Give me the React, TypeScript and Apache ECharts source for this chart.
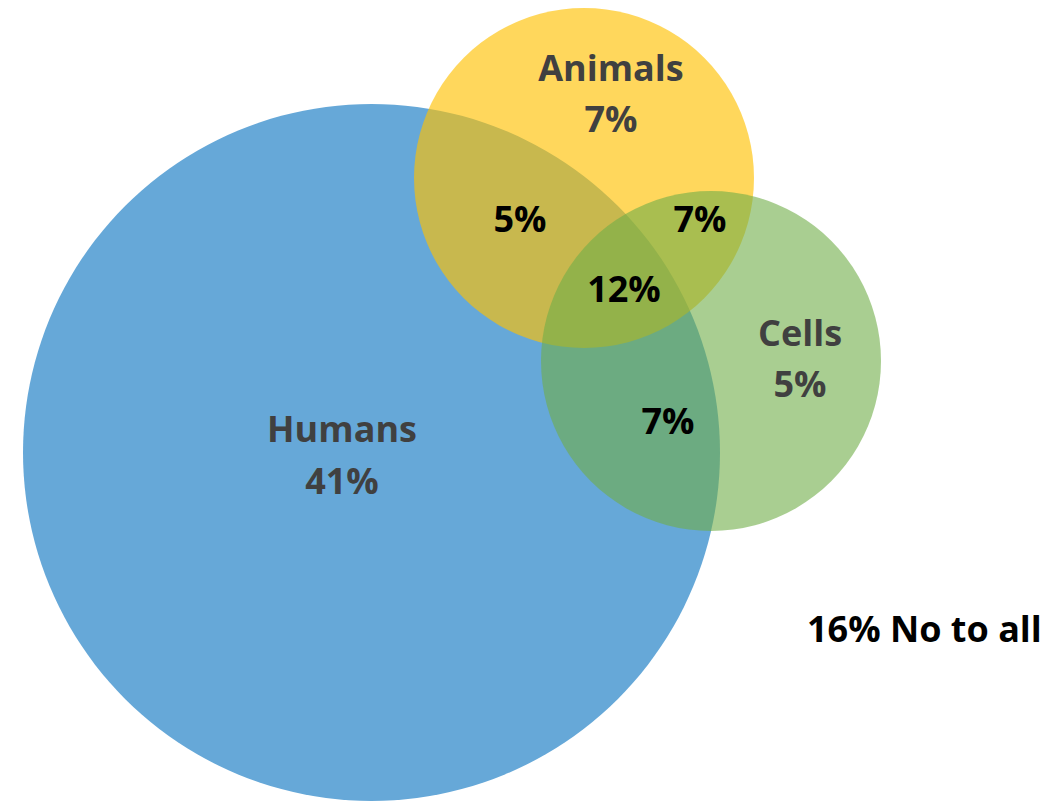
import React, { useEffect, useRef } from "react";
import * as echarts from "echarts";

// Three sets and their exclusive shares (%)
const setNames = ["Humans", "Animals", "Cells"];
const setOnlyShare = [41, 7, 5];

// Circle geometry in chart units (x, y centre and radius)
const circleX = [371.5, 584, 711];
const circleY = [452.5, 178, 361];
const circleR = [348.5, 170, 170];
const circleFill = ["#66A8D8", "rgba(255,192,0,0.64)", "rgba(112,173,71,0.6)"];

// Where each set's name/share sits
const setLabelX = [342, 611, 800];
const setNameY = [428, 67, 332];
const setShareY = [480, 118, 383];

// Overlap regions: Humans∩Animals, Animals∩Cells, all three, Humans∩Cells
const overlapShare = [5, 7, 12, 7];
const overlapX = [520, 700, 624, 668];
const overlapY = [218, 218, 288, 420];

// Respondents outside every set
const noneShare = 16;
const noneText = "No to all";
const noneX = [807];
const noneY = [628];

const FONT = "'Open Sans', 'Noto Sans', sans-serif";

export default function App() {
  const ref = useRef<HTMLDivElement>(null);

  useEffect(() => {
    if (!ref.current) return;
    const chart = echarts.init(ref.current, undefined, { renderer: "svg" });

    const textItem = (
      api: any,
      x: number,
      y: number,
      text: string,
      fill: string,
      align: string
    ) => {
      const p = api.coord([x, y]);
      return {
        type: "text",
        x: p[0],
        y: p[1],
        style: {
          text,
          fill,
          font: `bold 36px ${FONT}`,
          align,
          verticalAlign: "middle",
        },
      };
    };

    chart.setOption({
      animation: false,
      backgroundColor: "#ffffff",
      grid: { left: 0, right: 0, top: 0, bottom: 0, containLabel: false },
      xAxis: { type: "value", min: 0, max: 1056, show: false },
      yAxis: { type: "value", min: 0, max: 801, inverse: true, show: false },
      series: [
        {
          type: "custom",
          name: "sets",
          clip: false,
          data: setNames.map((_, i) => [circleX[i], circleY[i], circleR[i]]),
          renderItem: (params: any, api: any) => {
            const c = api.coord([api.value(0), api.value(1)]);
            const s = api.size([api.value(2), api.value(2)]);
            return {
              type: "circle",
              shape: { cx: c[0], cy: c[1], r: s[0] },
              style: { fill: circleFill[params.dataIndex] },
            };
          },
          z: 1,
        },
        {
          type: "custom",
          name: "setLabels",
          clip: false,
          data: setNames.map((_, i) => [setLabelX[i], setNameY[i]]),
          renderItem: (params: any, api: any) => {
            const i = params.dataIndex;
            return {
              type: "group",
              children: [
                textItem(api, setLabelX[i], setNameY[i], setNames[i], "#404040", "center"),
                textItem(api, setLabelX[i], setShareY[i], `${setOnlyShare[i]}%`, "#404040", "center"),
              ],
            };
          },
          z: 2,
        },
        {
          type: "custom",
          name: "overlapLabels",
          clip: false,
          data: overlapShare.map((_, i) => [overlapX[i], overlapY[i]]),
          renderItem: (params: any, api: any) => {
            const i = params.dataIndex;
            return textItem(api, overlapX[i], overlapY[i], `${overlapShare[i]}%`, "#000000", "center");
          },
          z: 2,
        },
        {
          type: "custom",
          name: "none",
          clip: false,
          data: [[noneX[0], noneY[0]]],
          renderItem: (params: any, api: any) =>
            textItem(api, noneX[0], noneY[0], `${noneShare}% ${noneText}`, "#000000", "left"),
          z: 2,
        },
      ],
    });

    return () => chart.dispose();
  }, []);

  return (
    <div
      ref={ref}
      style={{ position: "absolute", left: 0, top: 0, width: 1056, height: 801 }}
    />
  );
}
